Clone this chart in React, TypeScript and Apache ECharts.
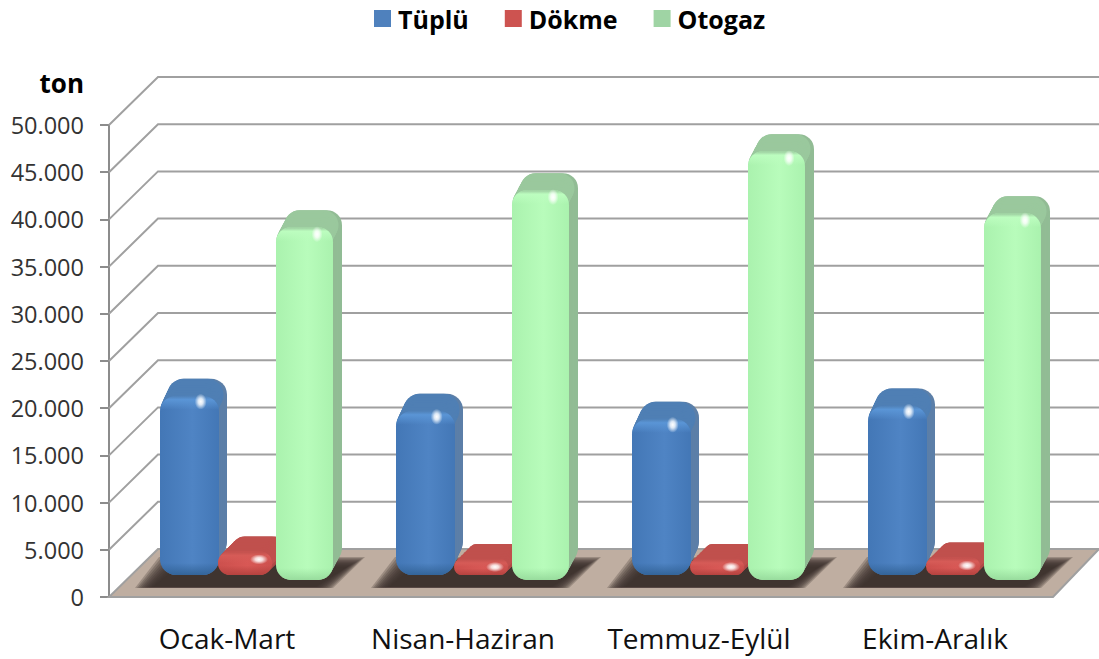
import React, { useEffect, useRef } from "react";
import * as echarts from "echarts";

const categories = ["Ocak-Mart", "Nisan-Haziran", "Temmuz-Eylül", "Ekim-Aralık"];
const tuplu = [19000, 17400, 16550, 17950];
const dokme = [2500, 1700, 1700, 1850];
const otogaz = [37370, 41300, 45430, 38850];
const yTicks = [0, 5000, 10000, 15000, 20000, 25000, 30000, 35000, 40000, 45000, 50000];

const FONT = "'Open Sans', sans-serif";
const DEPTH_X = 49;
const DEPTH_Y = 48;

type Look = {
  left: number; width: number; lift: number; dx: number; dy: number; radius: number;
  edge: string; mid: string; side: string; top: string; bevel: string; base: string;
  glowX: number; glowY: number; glowRx: number; glowRy: number;
};

const looks: Record<string, Look> = {
  blue: { left: -67, width: 59, lift: 22, dx: 8, dy: 17, radius: 16,
    edge: "#4377b6", mid: "#4f84c4", side: "#5c7fa8", top: "#4f7fb4", bevel: "#5a95d6", base: "#336499",
    glowX: 0.69, glowY: 6, glowRx: 6, glowRy: 8 },
  red: { left: -9, width: 54, lift: 22, dx: 15, dy: 15, radius: 14,
    edge: "#cc504d", mid: "#d85855", side: "#b04a47", top: "#c0504d", bevel: "#d65b57", base: "#b5423f",
    glowX: 0.76, glowY: 8, glowRx: 9, glowRy: 5 },
  green: { left: 49, width: 57, lift: 17, dx: 9, dy: 17, radius: 15,
    edge: "#aaf2ae", mid: "#b8fcbb", side: "#92bc95", top: "#9ac89d", bevel: "#bcfdbf", base: "#98dc9d",
    glowX: 0.72, glowY: 7, glowRx: 5.5, glowRy: 8 },
};

function barRenderer(look: Look) {
  return (_params: any, api: any) => {
    const pCenter = api.coord([api.value(0), 0]);
    const pTop = api.coord([api.value(0), api.value(1)]);
    const x = pCenter[0] + look.left;
    const base = pCenter[1] - look.lift;
    const top = pTop[1] - look.lift;
    const h = base - top;
    const w = look.width;
    const r = Math.min(look.radius, h / 2);
    const children: any[] = [];
    const steps = 10;
    for (let i = steps; i >= 1; i--) {
      const t = i / steps;
      children.push({
        type: "rect", silent: true,
        shape: { x: x + look.dx * t, y: top - look.dy * t, width: w, height: h, r },
        style: { fill: look.side },
      });
    }
    for (let i = steps; i >= 1; i--) {
      const t = i / steps;
      children.push({
        type: "rect", silent: true,
        shape: { x: x + look.dx * t - 0.5, y: top - look.dy * t, width: w - 3, height: Math.min(h, r * 2), r },
        style: { fill: look.top },
      });
    }
    children.push({
      type: "rect", silent: true,
      shape: { x, y: top, width: w, height: h, r },
      style: {
        fill: new echarts.graphic.LinearGradient(0, 0, 1, 0, [
          { offset: 0, color: look.edge },
          { offset: 0.55, color: look.mid },
          { offset: 1, color: look.edge },
        ]),
      },
    });
    children.push({
      type: "rect", silent: true,
      shape: { x, y: top, width: w, height: h, r },
      style: {
        fill: new echarts.graphic.LinearGradient(0, 0, 0, 1, [
          { offset: 0, color: look.top },
          { offset: Math.min(0.3, 4 / h), color: look.bevel },
          { offset: Math.min(0.5, 14 / h), color: look.bevel + "00" },
          { offset: Math.max(0.6, 1 - 12 / h), color: look.base + "00" },
          { offset: 1, color: look.base },
        ]),
      },
    });
    children.push({
      type: "ellipse", silent: true,
      shape: { cx: x + w * look.glowX, cy: top + look.glowY, rx: look.glowRx, ry: look.glowRy },
      style: {
        fill: new echarts.graphic.RadialGradient(0.5, 0.5, 0.5, [
          { offset: 0, color: "rgba(255,255,255,1)" },
          { offset: 0.4, color: "rgba(255,255,255,0.8)" },
          { offset: 1, color: "rgba(255,255,255,0)" },
        ]),
      },
    });
    return { type: "group", children };
  };
}

function wallRenderer(params: any, api: any) {
  const y = api.coord([0, api.value(1)])[1];
  const x0 = params.coordSys.x;
  const value = api.value(1);
  if (value === 0) return { type: "group", children: [] };
  return {
    type: "polyline", silent: true,
    shape: { points: [[x0, y], [x0 + DEPTH_X, y - DEPTH_Y], [api.getWidth(), y - DEPTH_Y]] },
    style: { stroke: "#a0a0a0", lineWidth: 2, fill: "none" },
  };
}

function floorRenderer(params: any, api: any) {
  const cs = params.coordSys;
  const y = cs.y + cs.height;
  return {
    type: "polygon", silent: true,
    shape: { points: [[cs.x, y], [cs.x + cs.width, y], [api.getWidth(), y - DEPTH_Y], [cs.x + DEPTH_X, y - DEPTH_Y]] },
    style: { fill: "#bfaea1", stroke: "#a0a0a0", lineWidth: 2 },
  };
}

function shadowRenderer(_params: any, api: any) {
  const p = api.coord([api.value(0), 0]);
  const c = p[0];
  const y = p[1];
  const layers = 10;
  const children: any[] = [];
  for (let i = 0; i < layers; i++) {
    const inset = i * 2;
    const rise = i * 1.1;
    const sink = i * 0.12;
    children.push({
      type: "polygon", silent: true,
      shape: {
        points: [
          [c - 92 + inset, y - 9 - sink],
          [c + 106 - inset, y - 9 - sink],
          [c + 138 - inset, y - 40 + rise],
          [c - 68 + inset, y - 40 + rise],
        ],
      },
      style: { fill: "#3a312d", opacity: 0.27 },
    });
  }
  return { type: "group", children };
}

const helperData = categories.map((_, i) => [i, 0]);

export default function App() {
  const ref = useRef<HTMLDivElement>(null);
  useEffect(() => {
    const chart = echarts.init(ref.current!, null, { renderer: "svg" });
    const bar = (name: string, values: number[], look: Look, color: string, z: number) => ({
      name, type: "custom", clip: false, z,
      itemStyle: { color },
      renderItem: barRenderer(look),
      data: values.map((v, i) => [i, v]),
      encode: { x: 0, y: 1 },
    });
    chart.setOption({
      animation: false,
      backgroundColor: "#ffffff",
      textStyle: { fontFamily: FONT },
      legend: {
        data: [
          { name: "Tüplü", itemStyle: { color: "#4f81bd" } },
          { name: "Dökme", itemStyle: { color: "#cd5350" } },
          { name: "Otogaz", itemStyle: { color: "#9fd4a4" } },
        ],
        top: 1, left: 369, itemWidth: 17, itemHeight: 17, itemGap: 36, icon: "rect",
        textStyle: { fontFamily: FONT, fontWeight: "bold", fontSize: 25, color: "#000", padding: [0, 0, 0, 2] },
      },
      grid: { left: 109, top: 125, width: 944, height: 472 },
      xAxis: {
        type: "category", data: categories,
        axisLine: { show: false }, axisTick: { show: false },
        axisLabel: { fontFamily: FONT, fontSize: 28, color: "#111", margin: 27, interval: 0 },
      },
      yAxis: {
        type: "value", min: 0, max: 50000, interval: 5000,
        name: "ton", nameLocation: "end", nameGap: 29,
        nameTextStyle: { fontFamily: FONT, fontWeight: "bold", fontSize: 26, color: "#000", align: "right", padding: [0, 25, 0, 0] },
        axisLine: { show: true, lineStyle: { color: "#8c8c8c", width: 2 } },
        axisTick: { show: true, length: 9, lineStyle: { color: "#8c8c8c", width: 2 } },
        splitLine: { show: false },
        axisLabel: {
          fontFamily: FONT, fontSize: 23.5, color: "#333", margin: 25,
          formatter: (v: number) => (v === 0 ? "0" : String(v / 1000) + ".000"),
        },
      },
      series: [
        { name: "walls", type: "custom", clip: false, z: 1, renderItem: wallRenderer, data: yTicks.map((v) => [0, v]), encode: { x: 0, y: 1 } },
        { name: "floor", type: "custom", clip: false, z: 2, renderItem: floorRenderer, data: [[0, 0]], encode: { x: 0, y: 1 } },
        { name: "shadow", type: "custom", clip: false, z: 3, renderItem: shadowRenderer, data: helperData, encode: { x: 0, y: 1 } },
        bar("Tüplü", tuplu, looks.blue, "#4f81bd", 4),
        bar("Dökme", dokme, looks.red, "#cd5350", 5),
        bar("Otogaz", otogaz, looks.green, "#9fd4a4", 6),
      ],
    });
    return () => chart.dispose();
  }, []);
  return <div ref={ref} style={{ width: 1099, height: 659, position: "absolute", left: 0, top: 0 }} />;
}
